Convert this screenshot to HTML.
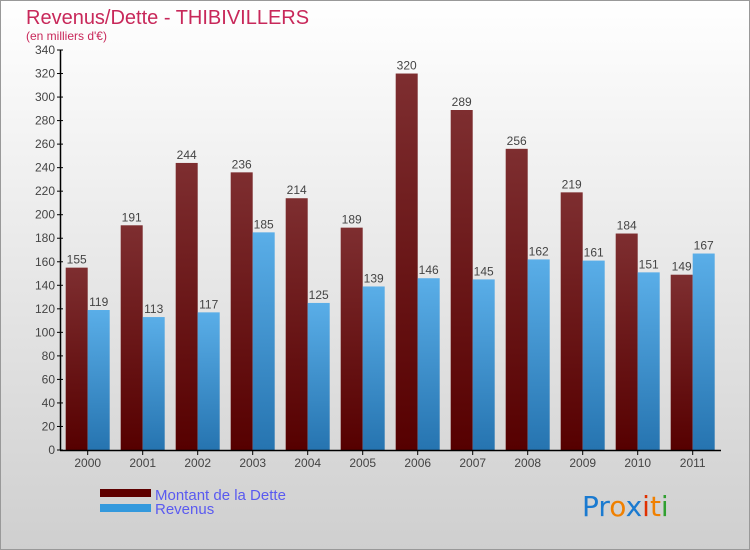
<!DOCTYPE html>
<html><head><meta charset="utf-8"><style>
body{margin:0;width:750px;height:550px;overflow:hidden;font-family:"Liberation Sans",sans-serif}
svg{display:block}
</style></head><body>
<svg id="chart" width="750" height="550" xmlns="http://www.w3.org/2000/svg">
<defs>
<linearGradient id="bg" x1="0" y1="0" x2="0" y2="1"><stop offset="0" stop-color="#ffffff"/><stop offset="1" stop-color="#cfcfcf"/></linearGradient>
<linearGradient id="gD" x1="0" y1="0" x2="0" y2="1"><stop offset="0" stop-color="#7e2e30"/><stop offset="1" stop-color="#560000"/></linearGradient>
<linearGradient id="gR" x1="0" y1="0" x2="0" y2="1"><stop offset="0" stop-color="#5aaee8"/><stop offset="1" stop-color="#2674b0"/></linearGradient>
</defs>
<rect x="0.5" y="0.5" width="749" height="549" fill="url(#bg)" stroke="#999"/>
<text x="26" y="24" font-size="20" fill="#c8285a">Revenus/Dette - THIBIVILLERS</text>
<text x="26" y="40" font-size="12" fill="#c8285a">(en milliers d'€)</text>
<g id="yaxis"></g>
<g id="bars"></g>
<g id="xaxis"></g>
<rect x="100" y="489" width="51" height="8" fill="#5e0000"/>
<text x="155" y="500" font-size="15" fill="#5a5af0">Montant de la Dette</text>
<rect x="100" y="504" width="51" height="8" fill="#3399dd"/>
<text x="155" y="514" font-size="15" fill="#5a5af0">Revenus</text>
<g font-size="28" font-family="DejaVu Sans,sans-serif">
<text x="582" y="516"><tspan fill="#1a7ad0">Pr</tspan><tspan fill="#f08000">o</tspan><tspan fill="#1a7ad0">x</tspan><tspan fill="#e03000">i</tspan><tspan fill="#f08000">t</tspan><tspan fill="#30a030">i</tspan></text>
</g>
</svg>
<script>
const years=["2000","2001","2002","2003","2004","2005","2006","2007","2008","2009","2010","2011"];
const dette=[155,191,244,236,214,189,320,289,256,219,184,149];
const revenus=[119,113,117,185,125,139,146,145,162,161,151,167];
const yTicks=[0,20,40,60,80,100,120,140,160,180,200,220,240,260,280,300,320,340];
const NS="http://www.w3.org/2000/svg";
const y=v=>450-v*400/340;
const xc=i=>87.7+i*55;
function mk(tag,attrs,parent){const e=document.createElementNS(NS,tag);for(const k in attrs)e.setAttribute(k,attrs[k]);parent.appendChild(e);return e;}
const ya=document.getElementById('yaxis'),xa=document.getElementById('xaxis'),bg=document.getElementById('bars');
mk('line',{x1:60.5,y1:50,x2:60.5,y2:450,stroke:'#000','stroke-width':1.5},ya);
yTicks.forEach(t=>{
 mk('line',{x1:57,y1:y(t),x2:63,y2:y(t),stroke:'#000'},ya);
 const tx=mk('text',{x:55,y:y(t)+4,'font-size':12,'text-anchor':'end',fill:'#444'},ya);
 tx.textContent=t;
 
 
});
mk('line',{x1:60,y1:450.5,x2:721,y2:450.5,stroke:'#000','stroke-width':1.5},xa);
years.forEach((yr,i)=>{
 const c=xc(i);
 mk('line',{x1:c,y1:450,x2:c,y2:455,stroke:'#000'},xa);
 const tx=mk('text',{x:c,y:467,'font-size':12,'text-anchor':'middle',fill:'#444'},xa);
 tx.textContent=yr;
 
 
 const b1=mk('rect',{x:c-22,y:y(dette[i]),width:22,height:450-y(dette[i]),fill:'url(#gD)'},bg);
 
 
 const b2=mk('rect',{x:c,y:y(revenus[i]),width:22,height:450-y(revenus[i]),fill:'url(#gR)'},bg);
 
 
 const l1=mk('text',{x:c-11,y:y(dette[i])-4,'font-size':12,'text-anchor':'middle',fill:'#444'},bg);
 l1.textContent=dette[i];
 
 
 const l2=mk('text',{x:c+11,y:y(revenus[i])-4,'font-size':12,'text-anchor':'middle',fill:'#444'},bg);
 l2.textContent=revenus[i];
 
 
});
</script>
</body></html>
